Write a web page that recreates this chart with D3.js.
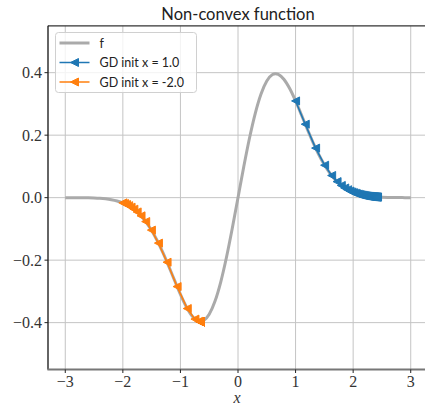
<!DOCTYPE html>
<html>
<head>
<meta charset="utf-8">
<script src="https://cdn.jsdelivr.net/npm/d3@7"></script>
<style>
  body { margin: 0; background: #fff; }
  svg { display: block; }
</style>
</head>
<body>
<script>

// function curve f
var fX = [-3.0,-2.9,-2.8,-2.7,-2.6,-2.5,-2.4,-2.3,-2.2,-2.1,-2.0,-1.9,-1.8,-1.7,-1.6,-1.5,-1.4,-1.3,-1.2,-1.1,-1.0,-0.9,-0.8,-0.7,-0.65,-0.6,-0.5,-0.4,-0.3,-0.2,-0.1,
          0.0,0.1,0.2,0.3,0.4,0.5,0.6,0.65,0.7,0.8,0.9,1.0,1.1,1.2,1.3,1.4,1.5,1.6,1.7,1.8,1.9,2.0,2.1,2.2,2.3,2.4,2.5,2.6,2.7,2.8,2.9,3.0];
var fY = [-0.00002,-0.00005,-0.00013,-0.00029,-0.0006,-0.00116,-0.00213,-0.00376,-0.0064,-0.0105,-0.01666,-0.0256,-0.03814,-0.05512,-0.07727,-0.10514,-0.13881,-0.1778,-0.22083,-0.26576,-0.30956,-0.34847,-0.37825,-0.39467,-0.3967,-0.39394,-0.37338,-0.33184,-0.27009,-0.19088,-0.09884,
          0,0.09884,0.19088,0.27009,0.33184,0.37338,0.39394,0.3967,0.39467,0.37825,0.34847,0.30956,0.26576,0.22083,0.1778,0.13881,0.10514,0.07727,0.05512,0.03814,0.0256,0.01666,0.0105,0.0064,0.00376,0.00213,0.00116,0.0006,0.00029,0.00013,0.00005,0.00002];

// GD iterates, init x = 1.0
var gdAx = [1.0,1.1682,1.3478,1.5044,1.6265,1.7203,1.794,1.8536,1.903,1.945,1.9813,2.0131,2.0414,2.0668,2.0898,2.1107,2.1299,2.1476,2.1641,2.1794,2.1938,
            2.2073,2.22,2.232,2.2433,2.2541,2.2643,2.2741,2.2834,2.2924,2.301,2.3092,2.3171,2.3247,2.3321,2.3392,2.3461,2.3527,2.3591,2.3653,2.3714,
            2.3773,2.383,2.3886,2.394,2.3993,2.4044,2.4094,2.4143,2.4191,2.4238];
var gdAy = [0.3096,0.2351,0.1586,0.1038,0.0709,0.0513,0.039,0.0309,0.0253,0.0212,0.0181,0.0157,0.0138,0.0123,0.011,0.00997,0.00908,0.00832,0.00767,0.00709,0.00659,
            0.00615,0.00576,0.00541,0.0051,0.00482,0.00456,0.00432,0.00412,0.00392,0.00374,0.00357,0.00342,0.00328,0.00315,0.00302,0.00291,0.0028,0.0027,0.00261,0.00251,
            0.00243,0.00235,0.00228,0.0022,0.00213,0.00207,0.00201,0.00195,0.0019,0.00185];

// GD iterates, init x = -2.0 (piles up at the minimum)
var gdBx = [-2.0,-1.9703,-1.9372,-1.8999,-1.8575,-1.8087,-1.7517,-1.6843,-1.6032,-1.5041,-1.3819,-1.2322,-1.0578,-0.8812,-0.7481,-0.683,-0.6613,-0.6553,-0.6538,-0.6534,
            -0.6533,-0.6533,-0.6533,-0.6533,-0.6533,-0.6533,-0.6533,-0.6533,-0.6533,-0.6533,-0.6533,-0.6533,-0.6533,-0.6533,-0.6533,-0.6533,-0.6533,-0.6533,-0.6533,-0.6533,
            -0.6533,-0.6533,-0.6533,-0.6533,-0.6533,-0.6533,-0.6533,-0.6533,-0.6533,-0.6533,-0.6533];
var gdBy = [-0.0167,-0.019,-0.0219,-0.0256,-0.0304,-0.0369,-0.0457,-0.0582,-0.0765,-0.1039,-0.1455,-0.2066,-0.2846,-0.3549,-0.3887,-0.3958,-0.3967,-0.3966,-0.3968,-0.3968,
            -0.3968,-0.3968,-0.3968,-0.3968,-0.3968,-0.3968,-0.3968,-0.3968,-0.3968,-0.3968,-0.3968,-0.3968,-0.3968,-0.3968,-0.3968,-0.3968,-0.3968,-0.3968,-0.3968,-0.3968,
            -0.3968,-0.3968,-0.3968,-0.3968,-0.3968,-0.3968,-0.3968,-0.3968,-0.3968,-0.3968,-0.3968];

var xTicks = [-3,-2,-1,0,1,2,3];
var yTicks = [-0.4,-0.2,0.0,0.2,0.4];
var legendLabels = ["f", "GD init x = 1.0", "GD init x = -2.0"];

var W = 425, H = 406;
var axL = 48, axR = 428, axT = 25.8, axB = 369.5;

var x = d3.scaleLinear().domain([-3.3, 3.3]).range([axL, axR]);
var y = d3.scaleLinear().domain([-0.55, 0.55]).range([axB, axT]);

var svg = d3.select("body").append("svg")
    .attr("width", W)
    .attr("height", H);

// grid
svg.append("g").selectAll("line").data(xTicks).enter().append("line")
    .attr("x1", d => x(d)).attr("x2", d => x(d))
    .attr("y1", axT).attr("y2", axB)
    .attr("stroke", "#c4c4c4").attr("stroke-width", 1);
svg.append("g").selectAll("line").data(yTicks).enter().append("line")
    .attr("x1", axL).attr("x2", axR)
    .attr("y1", d => y(d)).attr("y2", d => y(d))
    .attr("stroke", "#c4c4c4").attr("stroke-width", 1);

// f curve
var line = d3.line().x(d => x(d[0])).y(d => y(d[1])).curve(d3.curveMonotoneX);
svg.append("path")
    .attr("d", line(d3.zip(fX, fY)))
    .attr("fill", "none")
    .attr("stroke", "#aaaaaa")
    .attr("stroke-width", 3);

// "<" marker shape
function triLeft(cx, cy, s) {
    return "M" + (cx - s) + "," + cy + "L" + (cx + s) + "," + (cy - s) + "L" + (cx + s) + "," + (cy + s) + "Z";
}

function drawGD(xs, ys, color) {
    var pts = d3.zip(xs, ys);
    var g = svg.append("g");
    g.append("path")
        .attr("d", d3.line().x(d => x(d[0])).y(d => y(d[1]))(pts))
        .attr("fill", "none")
        .attr("stroke", color)
        .attr("stroke-width", 1.5);
    g.selectAll("path.m").data(pts).enter().append("path")
        .attr("class", "m")
        .attr("d", d => triLeft(x(d[0]), y(d[1]), 4))
        .attr("fill", color)
        .attr("stroke", color)
        .attr("stroke-width", 1);
}
drawGD(gdAx, gdAy, "#1f77b4");
drawGD(gdBx, gdBy, "#ff7f0e");

// spines
svg.append("line").attr("x1", axL).attr("x2", axR).attr("y1", axT).attr("y2", axT)
    .attr("stroke", "#333").attr("stroke-width", 1.3);
svg.append("line").attr("x1", axL).attr("x2", axL).attr("y1", axT).attr("y2", axB)
    .attr("stroke", "#111").attr("stroke-width", 1.3);
svg.append("line").attr("x1", axL - 0.6).attr("x2", axR).attr("y1", axB).attr("y2", axB)
    .attr("stroke", "#777").attr("stroke-width", 2);

// ticks + labels
var tickFont = "'Liberation Serif', 'DejaVu Serif', serif";
var fmt = d => (d < 0 ? "\u2212" : "") + Math.abs(d);
var fmtY = d => (d < 0 ? "\u2212" : "") + Math.abs(d).toFixed(1);

svg.append("g").selectAll("line").data(xTicks).enter().append("line")
    .attr("x1", d => x(d)).attr("x2", d => x(d))
    .attr("y1", axB).attr("y2", axB + 3.5)
    .attr("stroke", "#222").attr("stroke-width", 1);
svg.append("g").selectAll("text").data(xTicks).enter().append("text")
    .attr("x", d => x(d)).attr("y", axB + 17)
    .attr("text-anchor", "middle")
    .attr("font-family", tickFont).attr("font-size", 16).attr("fill", "#333")
    .text(fmt);

svg.append("g").selectAll("line").data(yTicks).enter().append("line")
    .attr("x1", axL - 3.5).attr("x2", axL)
    .attr("y1", d => y(d)).attr("y2", d => y(d))
    .attr("stroke", "#222").attr("stroke-width", 1);
svg.append("g").selectAll("text").data(yTicks).enter().append("text")
    .attr("x", axL - 6).attr("y", d => y(d) + 5.5)
    .attr("text-anchor", "end")
    .attr("font-family", tickFont).attr("font-size", 16).attr("fill", "#333")
    .text(fmtY);

// axis label + title
svg.append("text")
    .attr("x", (axL + axR) / 2 - 1).attr("y", 403)
    .attr("text-anchor", "middle")
    .attr("font-family", tickFont).attr("font-style", "italic").attr("font-size", 16).attr("fill", "#333")
    .text("x");
svg.append("text")
    .attr("x", (axL + axR) / 2).attr("y", 20)
    .attr("text-anchor", "middle")
    .attr("font-family", "Lato, 'Open Sans', sans-serif").attr("font-size", 16.5).attr("fill", "#222")
    .text("Non-convex function");

// legend
var lg = svg.append("g");
lg.append("rect")
    .attr("x", 55.5).attr("y", 32.5).attr("width", 141).attr("height", 60)
    .attr("rx", 3)
    .attr("fill", "#fff").attr("fill-opacity", 0.8)
    .attr("stroke", "#d0d0d0").attr("stroke-width", 1);
var legColors = ["#aaaaaa", "#1f77b4", "#ff7f0e"];
var legY = [43, 62.5, 82];
legendLabels.forEach(function(lab, i) {
    lg.append("line")
        .attr("x1", 59.5).attr("x2", 89.5)
        .attr("y1", legY[i]).attr("y2", legY[i])
        .attr("stroke", legColors[i]).attr("stroke-width", i === 0 ? 3 : 1.5);
    if (i > 0) {
        lg.append("path")
            .attr("d", triLeft(74.5, legY[i], 4))
            .attr("fill", legColors[i]).attr("stroke", legColors[i]);
    }
    lg.append("text")
        .attr("x", 99.5).attr("y", legY[i] + 4.5)
        .attr("font-family", "Lato, 'Open Sans', sans-serif").attr("font-size", 12.5).attr("fill", "#222")
        .text(lab);
});

</script>
</body>
</html>
